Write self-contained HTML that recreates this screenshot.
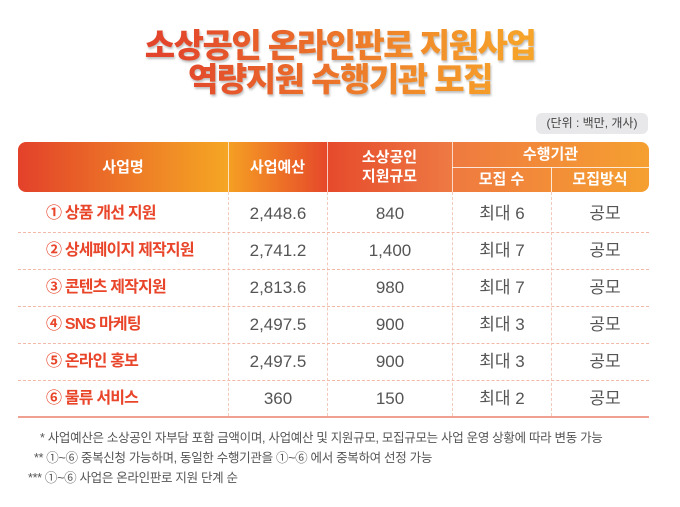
<!DOCTYPE html>
<html><head><meta charset="utf-8"><style>
body{margin:0;width:680px;height:507px;background:#fff;font-family:"Liberation Sans","Noto Sans CJK KR",sans-serif;position:relative;overflow:hidden}
.t{position:absolute;left:0;width:680px;text-align:center;font-weight:900;font-size:33px;line-height:34px;letter-spacing:-1.5px;
background:linear-gradient(90deg,#e2452b 25%,#f08a2a 60%,#f7a52a 78%);-webkit-background-clip:text;color:transparent;filter:drop-shadow(1px 2px 1px rgba(0,0,0,.25))}
.unit{position:absolute;left:536px;top:113px;width:112px;height:21px;background:#e8e8ea;border-radius:6px;font-size:12px;color:#444;text-align:center;line-height:21px}
.hd{position:absolute;top:142px;height:50px;color:#fff;font-weight:bold;font-size:15px;display:flex;align-items:center;justify-content:center;text-align:center;line-height:19px}
.c{position:absolute;font-size:17px;line-height:20px;color:#555;text-align:center;width:100px}
.n{position:absolute;left:46px;font-size:16px;line-height:20px;font-weight:bold;color:#e8452a;letter-spacing:-0.8px}
.dl{position:absolute;left:18px;width:631px;border-top:1px dashed #f3b9a8}
.vl{position:absolute;top:192px;height:224px;border-left:1px dashed #f3c9bc}
.f{position:absolute;font-size:12.5px;color:#555;letter-spacing:-0.3px}
</style></head><body>
<div class="t" style="top:29px">소상공인 온라인판로 지원사업</div>
<div class="t" style="top:63px">역량지원 수행기관 모집</div>
<div class="unit">(단위 : 백만, 개사)</div>
<div style="position:absolute;left:18px;top:142px;width:631px;height:50px;border-radius:8px;overflow:hidden">
<div style="position:absolute;left:0;width:210px;height:50px;background:linear-gradient(90deg,#e3412a,#f08a26 70%,#f5a623)"></div>
<div style="position:absolute;left:210px;width:99px;height:50px;background:linear-gradient(90deg,#f5a023,#e6482a)"></div>
<div style="position:absolute;left:309px;width:125px;height:50px;background:linear-gradient(90deg,#e64a2b,#ee7a44)"></div>
<div style="position:absolute;left:434px;width:197px;height:50px;background:linear-gradient(90deg,#ef7a40,#f5a030)"></div>
<div style="position:absolute;left:434px;top:25px;width:197px;border-top:1px solid rgba(255,255,255,.8)"></div>
<div style="position:absolute;left:533px;top:25px;height:25px;border-left:1px solid rgba(255,255,255,.8)"></div>
<div style="position:absolute;left:210px;height:50px;border-left:1px solid rgba(255,255,255,.7)"></div>
<div style="position:absolute;left:309px;height:50px;border-left:1px solid rgba(255,255,255,.7)"></div>
<div style="position:absolute;left:434px;height:50px;border-left:1px solid rgba(255,255,255,.7)"></div>
</div>
<div class="hd" style="left:18px;width:210px">사업명</div>
<div class="hd" style="left:228px;width:99px">사업예산</div>
<div class="hd" style="left:327px;width:125px">소상공인<br>지원규모</div>
<div class="hd" style="left:452px;width:197px;height:25px">수행기관</div>
<div class="hd" style="left:452px;top:167px;width:99px;height:25px">모집 수</div>
<div class="hd" style="left:551px;top:167px;width:98px;height:25px">모집방식</div>
<div class="vl" style="left:228px"></div><div class="vl" style="left:327px"></div><div class="vl" style="left:452px"></div><div class="vl" style="left:551px"></div>
<div class="dl" style="top:232px"></div><div class="dl" style="top:269px"></div><div class="dl" style="top:306px"></div><div class="dl" style="top:343px"></div><div class="dl" style="top:380px"></div>
<div style="position:absolute;left:18px;top:416px;width:631px;border-top:2px solid #f0a090"></div>
<div class="n" style="top:204px">① 상품 개선 지원</div>
<div class="n" style="top:241px">② 상세페이지 제작지원</div>
<div class="n" style="top:278px">③ 콘텐츠 제작지원</div>
<div class="n" style="top:315px">④ SNS 마케팅</div>
<div class="n" style="top:352px">⑤ 온라인 홍보</div>
<div class="n" style="top:389px">⑥ 물류 서비스</div>
<div class="c" style="left:228px;top:204px">2,448.6</div><div class="c" style="left:340px;top:204px">840</div><div class="c" style="left:452px;top:204px">최대 6</div><div class="c" style="left:555px;top:204px">공모</div>
<div class="c" style="left:228px;top:241px">2,741.2</div><div class="c" style="left:340px;top:241px">1,400</div><div class="c" style="left:452px;top:241px">최대 7</div><div class="c" style="left:555px;top:241px">공모</div>
<div class="c" style="left:228px;top:278px">2,813.6</div><div class="c" style="left:340px;top:278px">980</div><div class="c" style="left:452px;top:278px">최대 7</div><div class="c" style="left:555px;top:278px">공모</div>
<div class="c" style="left:228px;top:315px">2,497.5</div><div class="c" style="left:340px;top:315px">900</div><div class="c" style="left:452px;top:315px">최대 3</div><div class="c" style="left:555px;top:315px">공모</div>
<div class="c" style="left:228px;top:352px">2,497.5</div><div class="c" style="left:340px;top:352px">900</div><div class="c" style="left:452px;top:352px">최대 3</div><div class="c" style="left:555px;top:352px">공모</div>
<div class="c" style="left:228px;top:389px">360</div><div class="c" style="left:340px;top:389px">150</div><div class="c" style="left:452px;top:389px">최대 2</div><div class="c" style="left:555px;top:389px">공모</div>
<div class="f" style="left:40px;top:427px">* 사업예산은 소상공인 자부담 포함 금액이며, 사업예산 및 지원규모, 모집규모는 사업 운영 상황에 따라 변동 가능</div>
<div class="f" style="left:34px;top:447px">** ①~⑥ 중복신청 가능하며, 동일한 수행기관을 ①~⑥ 에서 중복하여 선정 가능</div>
<div class="f" style="left:28px;top:467px">*** ①~⑥ 사업은 온라인판로 지원 단계 순</div>
</body></html>
